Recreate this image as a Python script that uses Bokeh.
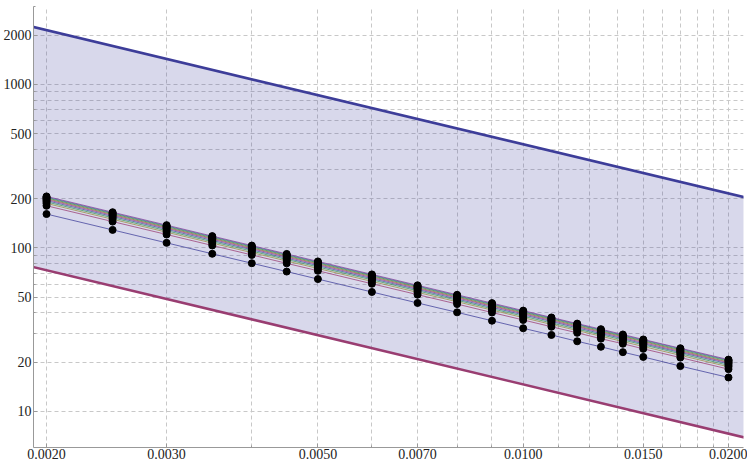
from bokeh.plotting import figure
from bokeh.models import FixedTicker, CustomJSTickFormatter, GlobalInlineStyleSheet
from bokeh.embed import file_html
from bokeh.resources import INLINE

# ---- data ----
x_values = [0.002, 0.0025, 0.003, 0.0035, 0.004, 0.0045, 0.005, 0.006, 0.007, 0.008,
            0.009, 0.010, 0.011, 0.012, 0.013, 0.014, 0.015, 0.017, 0.020]

s1 = [161, 128.8, 107.3, 92.0, 80.5, 71.6, 64.4, 53.7, 46.0, 40.3, 35.8, 32.2, 29.3, 26.8, 24.8, 23.0, 21.5, 18.9, 16.1]
s2 = [181, 144.8, 120.7, 103.4, 90.5, 80.4, 72.4, 60.3, 51.7, 45.3, 40.2, 36.2, 32.9, 30.2, 27.8, 25.9, 24.1, 21.3, 18.1]
s3 = [187, 149.6, 124.7, 106.9, 93.5, 83.1, 74.8, 62.3, 53.4, 46.8, 41.6, 37.4, 34.0, 31.2, 28.8, 26.7, 24.9, 22.0, 18.7]
s4 = [191, 152.8, 127.3, 109.1, 95.5, 84.9, 76.4, 63.7, 54.6, 47.8, 42.4, 38.2, 34.7, 31.8, 29.4, 27.3, 25.5, 22.5, 19.1]
s5 = [194.5, 155.6, 129.7, 111.1, 97.3, 86.4, 77.8, 64.8, 55.6, 48.6, 43.2, 38.9, 35.4, 32.4, 29.9, 27.8, 25.9, 22.9, 19.5]
s6 = [197.5, 158.0, 131.7, 112.9, 98.8, 87.8, 79.0, 65.8, 56.4, 49.4, 43.9, 39.5, 35.9, 32.9, 30.4, 28.2, 26.3, 23.2, 19.8]
s7 = [200, 160, 133.3, 114.3, 100, 88.9, 80, 66.7, 57.1, 50, 44.4, 40, 36.4, 33.3, 30.8, 28.6, 26.7, 23.5, 20]
s8 = [202.5, 162.0, 135.0, 115.7, 101.3, 90.0, 81.0, 67.5, 57.9, 50.6, 45.0, 40.5, 36.8, 33.8, 31.2, 28.9, 27.0, 23.8, 20.3]
s9 = [204.5, 163.6, 136.3, 116.9, 102.3, 90.9, 81.8, 68.2, 58.4, 51.1, 45.4, 40.9, 37.2, 34.1, 31.5, 29.2, 27.3, 24.1, 20.5]
s10 = [206.5, 165.2, 137.7, 118.0, 103.3, 91.8, 82.6, 68.8, 59.0, 51.6, 45.9, 41.3, 37.5, 34.4, 31.8, 29.5, 27.5, 24.3, 20.7]
series = [s1, s2, s3, s4, s5, s6, s7, s8, s9, s10]

band_x = [0.0019, 0.0211]
band_upper = [2263, 204]
band_lower = [76.8, 6.92]

x_major = [0.002, 0.003, 0.005, 0.007, 0.010, 0.015, 0.020]
x_minor = [0.004, 0.006, 0.008, 0.009, 0.01125, 0.0125, 0.01375, 0.016, 0.017, 0.018, 0.019]
y_major = [10, 20, 50, 100, 200, 500, 1000, 2000]
y_minor = [30, 40, 60, 70, 80, 90, 300, 400, 600, 700, 800, 900, 3000]

series_colors = ["#3D3D99", "#993D71", "#998B3D", "#3D9956", "#3D5A99",
                 "#993D90", "#996D3D", "#43993D", "#3D7999", "#843D99"]

# ---- figure ----
p = figure(width=747, height=464, x_axis_type="log", y_axis_type="log",
           x_range=(0.001914, 0.02104), y_range=(6, 3000),
           output_backend="svg", toolbar_location=None,
           min_border_left=31, min_border_right=4, min_border_top=6, min_border_bottom=17)
p.stylesheets = [GlobalInlineStyleSheet(css="html, body { margin: 0; padding: 0; overflow: hidden; }")]
p.outline_line_color = None
p.background_fill_color = "white"
p.border_fill_color = "white"

# band
p.varea(x=band_x, y1=band_lower, y2=band_upper, fill_color="#3D3D99", fill_alpha=0.2)
p.line(band_x, band_upper, line_color="#3D3D99", line_width=2.6)
p.line(band_x, band_lower, line_color="#993D71", line_width=2.6)

# series lines
for ys, c in zip(series, series_colors):
    p.line(x_values, ys, line_color=c, line_width=1, line_alpha=0.75)
# markers
for ys in series:
    p.scatter(x_values, ys, size=7, fill_color="black", line_color="black")

# axes
xt = FixedTicker(ticks=x_major, minor_ticks=x_minor)
yt = FixedTicker(ticks=y_major, minor_ticks=y_minor)
p.xaxis.ticker = xt
p.yaxis.ticker = yt
p.xgrid.ticker = xt
p.ygrid.ticker = yt
p.xaxis.formatter = CustomJSTickFormatter(code="return tick.toFixed(4);")
p.yaxis.formatter = CustomJSTickFormatter(code="return tick.toFixed(0);")

for ax in (p.xaxis[0], p.yaxis[0]):
    ax.axis_line_color = "#999999"
    ax.major_tick_line_color = "#999999"
    ax.minor_tick_line_color = "#999999"
    ax.major_tick_in = 4
    ax.major_tick_out = 0
    ax.minor_tick_in = 2
    ax.minor_tick_out = 0
    ax.major_label_text_font = "Liberation Serif"
    ax.major_label_text_font_size = "14px"
    ax.major_label_text_color = "#222222"
p.xaxis.major_label_standoff = 1
p.yaxis.major_label_standoff = 2

for g in (p.xgrid[0], p.ygrid[0]):
    g.grid_line_color = "#c8c8c8"
    g.grid_line_dash = "4 3"
    g.minor_grid_line_color = "#c8c8c8"
    g.minor_grid_line_dash = "4 3"

open("out.html", "w").write(file_html(p, INLINE))
